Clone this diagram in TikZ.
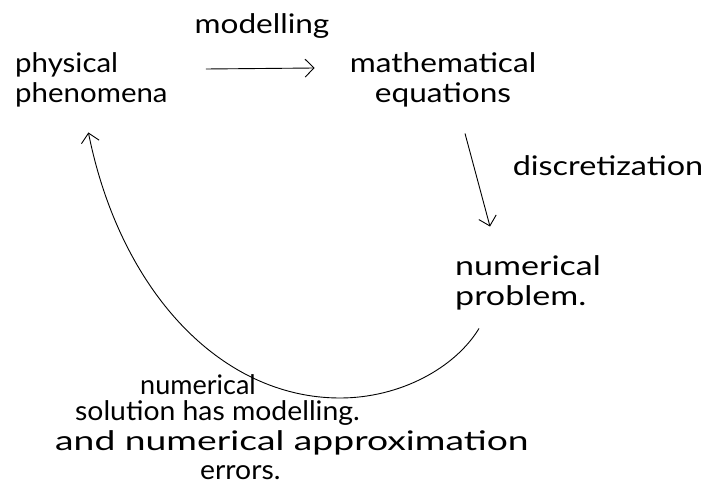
\documentclass[tikz,border=0pt]{standalone}
\usepackage{fontspec}
\setmainfont{Lato}
\usetikzlibrary{arrows.meta,calc}
\begin{document}
\begin{tikzpicture}[x=1pt,y=-1pt,
  lbl/.style={inner sep=0pt, font=\fontsize{27}{30}\selectfont\addfontfeature{FakeStretch=#1}},
  lbl/.default=1,
  arr/.style={line width=0.9pt, -{Straight Barb[length=9pt,width=18pt,line width=0.9pt]}}]
\useasboundingbox (0,0) rectangle (709,503);
\node[lbl=1.09, align=left, anchor=west] (phys) at (15,80) {physical\\phenomena};
\node[lbl=1.17] (model) at (262,26) {modelling};
\node[lbl=1.17, align=center] (math) at (443,80) {mathematical\\equations};
\node[lbl=1.2] (disc) at (608,166) {discretization};
\node[lbl=1.26, align=left, anchor=west] (prob) at (455,283) {numerical\\problem.};
\node[lbl=1.0, anchor=west] (c1) at (140,385) {numerical};
\node[lbl=1.05, anchor=west] (c2) at (75,413) {solution has modelling.};
\node[lbl=1.38, anchor=west] (c3) at (55,443) {and numerical approximation};
\node[lbl=1.05, anchor=west] (c4) at (200,473) {errors.};
\draw[arr] ($(phys.east)+(38,-11)$) -- ($(math.west)+(-35,-12)$);
\draw[arr] ($(math.south)+(22,26)$) -- ($(prob.north)+(-38,-29)$);
\draw[arr] ($(prob.south)+(-49,18)$) .. controls (455,368) and (400,398) .. (340,398)
  .. controls (220,398) and (120,290) .. ($(phys.south)+(-3,25)$);
\end{tikzpicture}
\end{document}
